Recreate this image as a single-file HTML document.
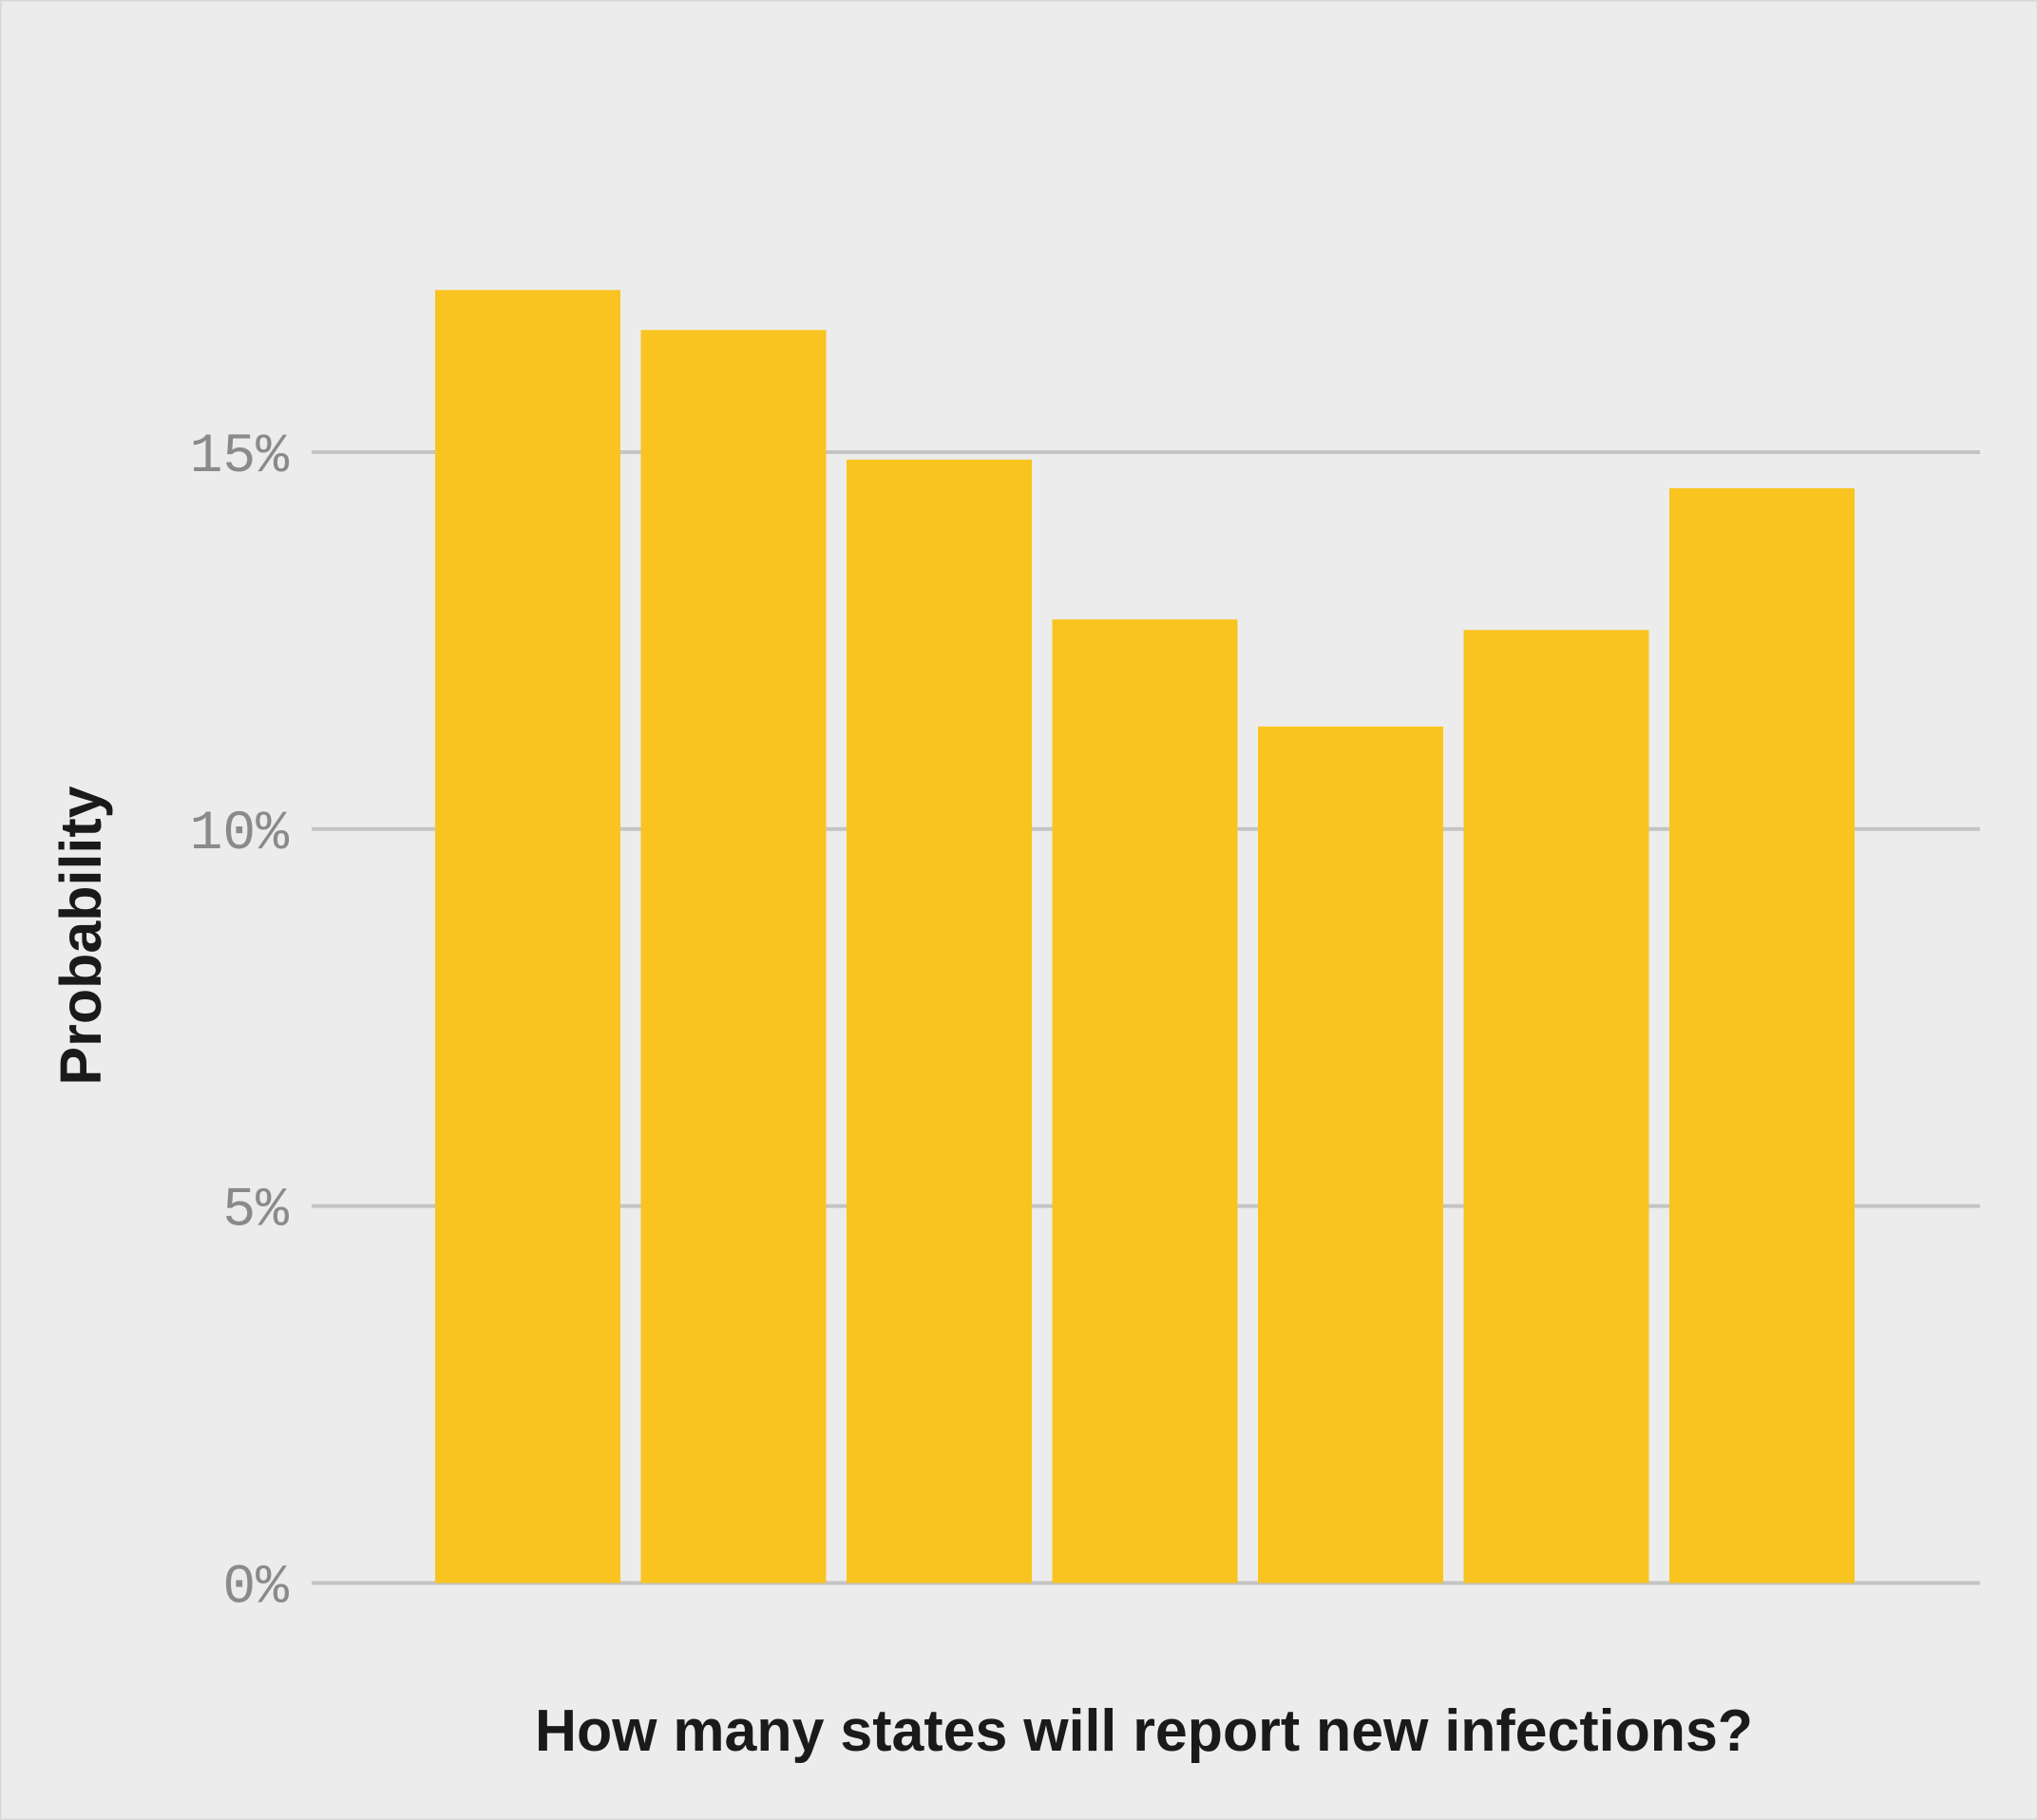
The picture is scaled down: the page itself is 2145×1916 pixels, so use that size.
<!DOCTYPE html>
<html><head><meta charset="utf-8"><style>
html,body{margin:0;padding:0;background:#ececec;}
svg{display:block;}
</style></head><body>
<svg width="2145" height="1916" xmlns="http://www.w3.org/2000/svg">
<rect x="0" y="0" width="2145" height="1916" fill="#ececec" stroke="#d8d8d8" stroke-width="3"/>
<g id="grid"></g>
<g id="bars"></g>
<g id="ylabels"></g>
<text x="0" y="0" transform="translate(106,985) rotate(-90)" text-anchor="middle" font-family="Liberation Sans, sans-serif" font-weight="bold" font-size="61" fill="#1a1a1a">Probability</text>
<text x="1204" y="1843" text-anchor="middle" textLength="1282" lengthAdjust="spacingAndGlyphs" font-family="Liberation Sans, sans-serif" font-weight="bold" font-size="62" fill="#1a1a1a">How many states will report new infections?</text>
</svg>
<script>
const categories = ["1","2","3","4","5","6","7"];
const values = [17.15, 16.62, 14.9, 12.78, 11.36, 12.64, 14.52];
const ticks = [0, 5, 10, 15];
const tickLabels = ["0%", "5%", "10%", "15%"];

const NS = "http://www.w3.org/2000/svg";
const y0 = 1666.5, pxPerPct = 79.37;
function yScale(v){ return y0 - v * pxPerPct; }
const barStart = 458, pitch = 216.5, barW = 195;
function xScale(i){ return barStart + i * pitch; }

const grid = document.getElementById('grid');
const ylab = document.getElementById('ylabels');
ticks.forEach((t, i) => {
  const y = yScale(t);
  const l = document.createElementNS(NS, 'line');
  l.setAttribute('x1', 328); l.setAttribute('x2', 2084);
  l.setAttribute('y1', y); l.setAttribute('y2', y);
  l.setAttribute('stroke', '#c4c4c4'); l.setAttribute('stroke-width', 4);
  
  
  grid.appendChild(l);
  const tx = document.createElementNS(NS, 'text');
  tx.setAttribute('x', 304); tx.setAttribute('y', y + 20);
  tx.setAttribute('text-anchor', 'end');
  tx.setAttribute('font-family', 'Liberation Mono, monospace');
  tx.setAttribute('font-size', '58');
  tx.setAttribute('fill', '#8a8a8a');
  tx.textContent = tickLabels[i];
  
  
  ylab.appendChild(tx);
});

const bars = document.getElementById('bars');
values.forEach((v, i) => {
  const r = document.createElementNS(NS, 'rect');
  r.setAttribute('x', xScale(i));
  r.setAttribute('y', yScale(v));
  r.setAttribute('width', barW);
  r.setAttribute('height', y0 - yScale(v));
  r.setAttribute('fill', '#f9c41f');
  
  
  bars.appendChild(r);
});
</script>
</body></html>
